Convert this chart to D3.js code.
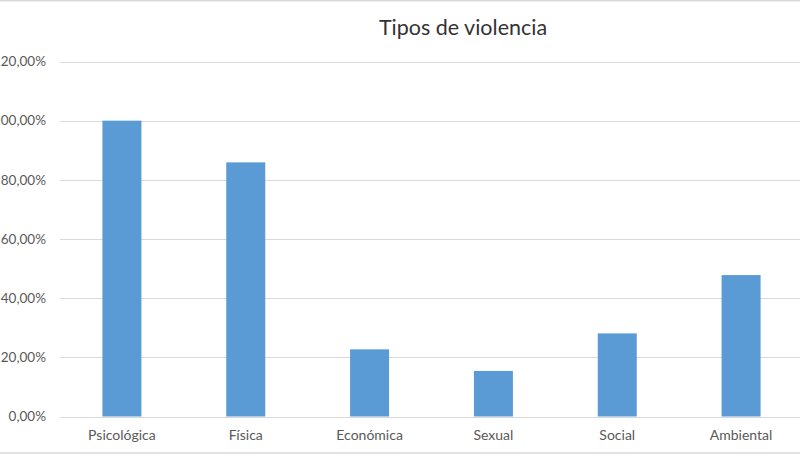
<!DOCTYPE html>
<html>
<head>
<meta charset="utf-8">
<script src="https://cdn.jsdelivr.net/npm/d3@7"></script>
<style>
  html, body { margin: 0; padding: 0; background: #fff; }
  svg { display: block; }
</style>
</head>
<body>
<svg id="chart" width="800" height="457"></svg>
<script>
const categories = ["Psicológica", "Física", "Económica", "Sexual", "Social", "Ambiental"];
const values = [1.00, 0.859, 0.227, 0.154, 0.281, 0.478];
const yTicks = [0, 0.2, 0.4, 0.6, 0.8, 1.0, 1.2];
const title = "Tipos de violencia";

const svg = d3.select("#chart");
const W = 800, H = 457;
const font = "Lato, 'Open Sans', sans-serif";

// frame lines
svg.append("line").attr("x1", 0).attr("x2", W).attr("y1", 0.5).attr("y2", 0.5)
  .attr("stroke", "#d9d9d9").attr("stroke-width", 2);
svg.append("line").attr("x1", 0).attr("x2", W).attr("y1", 453).attr("y2", 453)
  .attr("stroke", "#d9d9d9").attr("stroke-width", 1.5);

const x = d3.scaleBand().domain(categories).range([60, 803])
  .paddingInner(0.685).paddingOuter(0.3425);
const y = d3.scaleLinear().domain([0, 1.2]).range([416.5, 61.5]);

const fmt = v => d3.format(".2f")(v * 100).replace(".", ",") + "%";

// gridlines
svg.append("g").selectAll("line").data(yTicks).join("line")
  .attr("x1", 60).attr("x2", W)
  .attr("y1", d => Math.round(y(d)) + 0.5).attr("y2", d => Math.round(y(d)) + 0.5)
  .attr("stroke", "#d9d9d9").attr("stroke-width", 1);

// y axis labels
const yAxis = d3.axisLeft(y).tickValues(yTicks).tickFormat(fmt).tickSize(0).tickPadding(0);
const gy = svg.append("g").attr("transform", "translate(46,0)").call(yAxis);
gy.select(".domain").remove();
gy.selectAll("text").attr("fill", "#595959").attr("font-size", 13.5).attr("font-family", font);

// bars
svg.append("g").selectAll("rect").data(values).join("rect")
  .attr("x", (d, i) => x(categories[i]))
  .attr("width", x.bandwidth())
  .attr("y", d => y(d))
  .attr("height", d => y(0) - y(d))
  .attr("fill", "#5b9bd5");

// x axis labels
const xAxis = d3.axisBottom(x).tickSize(0).tickPadding(0);
const gx = svg.append("g").attr("transform", "translate(0,430)").call(xAxis);
gx.select(".domain").remove();
gx.selectAll("text").attr("fill", "#595959").attr("font-size", 14).attr("font-family", font);

// title
svg.append("text").attr("x", 463).attr("y", 35).attr("text-anchor", "middle")
  .attr("font-size", 21.5).attr("font-family", font).attr("fill", "#333")
  .text(title);
</script>
</body>
</html>
